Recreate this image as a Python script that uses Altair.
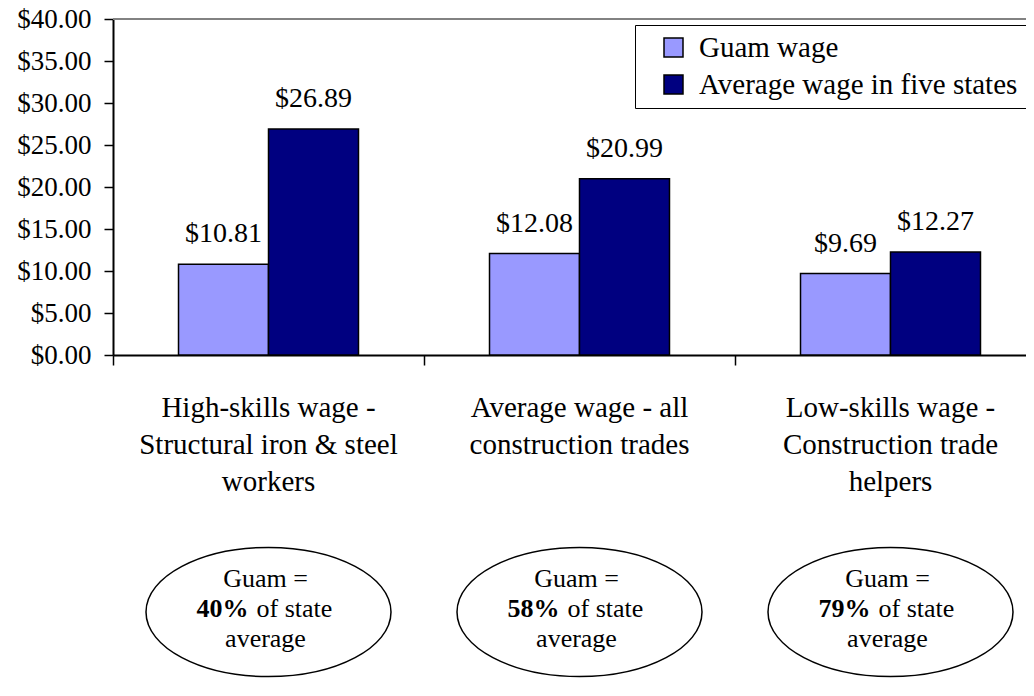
import altair as alt
import pandas as pd

categories = ["High-skills", "Average", "Low-skills"]
category_labels = [
    "High-skills wage -\nStructural iron & steel\nworkers",
    "Average wage - all\nconstruction trades",
    "Low-skills wage -\nConstruction trade\nhelpers",
]
series = ["Guam wage", "Average wage in five states"]
guam_wage = [10.81, 12.08, 9.69]
state_wage = [26.89, 20.99, 12.27]
guam_pct = ["40%", "58%", "79%"]
y_ticks = [0, 5, 10, 15, 20, 25, 30, 35, 40]
colors = ["#9999FF", "#000080"]

rows = []
for i, c in enumerate(categories):
    rows.append({"category": c, "series": series[0], "value": guam_wage[i]})
    rows.append({"category": c, "series": series[1], "value": state_wage[i]})
bars_df = pd.DataFrame(rows)
cat_df = pd.DataFrame({"category": categories, "label": category_labels, "pct": guam_pct})

FONT = "Liberation Serif"
PLOT_W = 933
PLOT_H = 336

x_enc = alt.X(
    "category:N",
    sort=categories,
    scale=alt.Scale(domain=categories, range=[0, PLOT_W], paddingInner=0, paddingOuter=0),
    axis=alt.Axis(title=None, labels=False, bandPosition=0, tickSize=10, tickColor="black",
                  tickWidth=1.5, domainColor="black", domainWidth=2),
)
xoff_enc = alt.XOffset(
    "series:N", sort=series,
    scale=alt.Scale(domain=series, paddingInner=0, paddingOuter=0.728),
)
y_scale = alt.Scale(domain=[0, 40], nice=False)

bars = alt.Chart(bars_df).mark_bar(stroke="black", strokeWidth=1.5).encode(
    x=x_enc,
    xOffset=xoff_enc,
    y=alt.Y("value:Q", scale=y_scale,
            axis=alt.Axis(title=None, values=y_ticks, format="$.2f", grid=False,
                          tickSize=9, tickColor="black", tickWidth=1.5,
                          domainColor="black", domainWidth=2,
                          labelFont=FONT, labelFontSize=27, labelColor="black",
                          labelPadding=13)),
    color=alt.Color("series:N", sort=series,
                    scale=alt.Scale(domain=series, range=colors),
                    legend=alt.Legend(orient="none", legendX=522, legendY=6, title=None,
                                      strokeColor="black", fillColor="white", padding=8,
                                      symbolType="square", symbolSize=361,
                                      symbolStrokeColor="black", symbolStrokeWidth=1.5,
                                      symbolOffset=16, labelFontSize=29, labelFont=FONT,
                                      labelColor="black", labelOffset=11, rowPadding=7,
                                      labelLimit=600)),
)

bar_labels = alt.Chart(bars_df).mark_text(
    font=FONT, fontSize=28, color="black", baseline="alphabetic", dy=-22
).encode(
    x=x_enc, xOffset=xoff_enc,
    y=alt.Y("value:Q", scale=y_scale),
    text=alt.Text("value:Q", format="$.2f"),
)

top_line = alt.Chart(cat_df).mark_rule(color="#808080", strokeWidth=1.5).encode(
    y=alt.datum(40), x=alt.value(0), x2=alt.value(PLOT_W)
)

x_labels = alt.Chart(cat_df).mark_text(
    font=FONT, fontSize=29, color="black", baseline="alphabetic", align="center",
    lineBreak="\n", lineHeight=37
).encode(x=x_enc, y=alt.value(398), text="label:N")

ellipse_path = ("M-1,0C-1,-0.291 -0.552,-0.527 0,-0.527C0.552,-0.527 1,-0.291 1,0"
                "C1,0.291 0.552,0.527 0,0.527C-0.552,0.527 -1,0.291 -1,0Z")
ellipses = alt.Chart(cat_df).mark_point(
    shape=ellipse_path, size=245 * 245, filled=False, stroke="black", strokeWidth=1.5, opacity=1
).encode(x=x_enc, y=alt.value(593))

e_line1 = alt.Chart(cat_df).mark_text(
    font=FONT, fontSize=26, color="black", baseline="alphabetic", align="center", dx=-3
).encode(x=x_enc, y=alt.value(568), text=alt.value("Guam ="))
e_pct = alt.Chart(cat_df).mark_text(
    font=FONT, fontSize=26, fontWeight="bold", color="black", baseline="alphabetic",
    align="right", dx=-20
).encode(x=x_enc, y=alt.value(598), text="pct:N")
e_rest = alt.Chart(cat_df).mark_text(
    font=FONT, fontSize=26, color="black", baseline="alphabetic", align="left", dx=-12
).encode(x=x_enc, y=alt.value(598), text=alt.value("of state"))
e_line3 = alt.Chart(cat_df).mark_text(
    font=FONT, fontSize=26, color="black", baseline="alphabetic", align="center", dx=-3
).encode(x=x_enc, y=alt.value(628), text=alt.value("average"))

chart = alt.layer(
    top_line, bars, bar_labels, x_labels, ellipses, e_line1, e_pct, e_rest, e_line3
).properties(
    width=913, height=PLOT_H,
    autosize=alt.AutoSizeParams(type="none"),
    padding={"left": 105, "top": 11, "right": 0, "bottom": 330},
).configure_view(stroke=None).configure(font=FONT)

chart.save("out.html", embed_options={"renderer": "svg", "actions": False})
